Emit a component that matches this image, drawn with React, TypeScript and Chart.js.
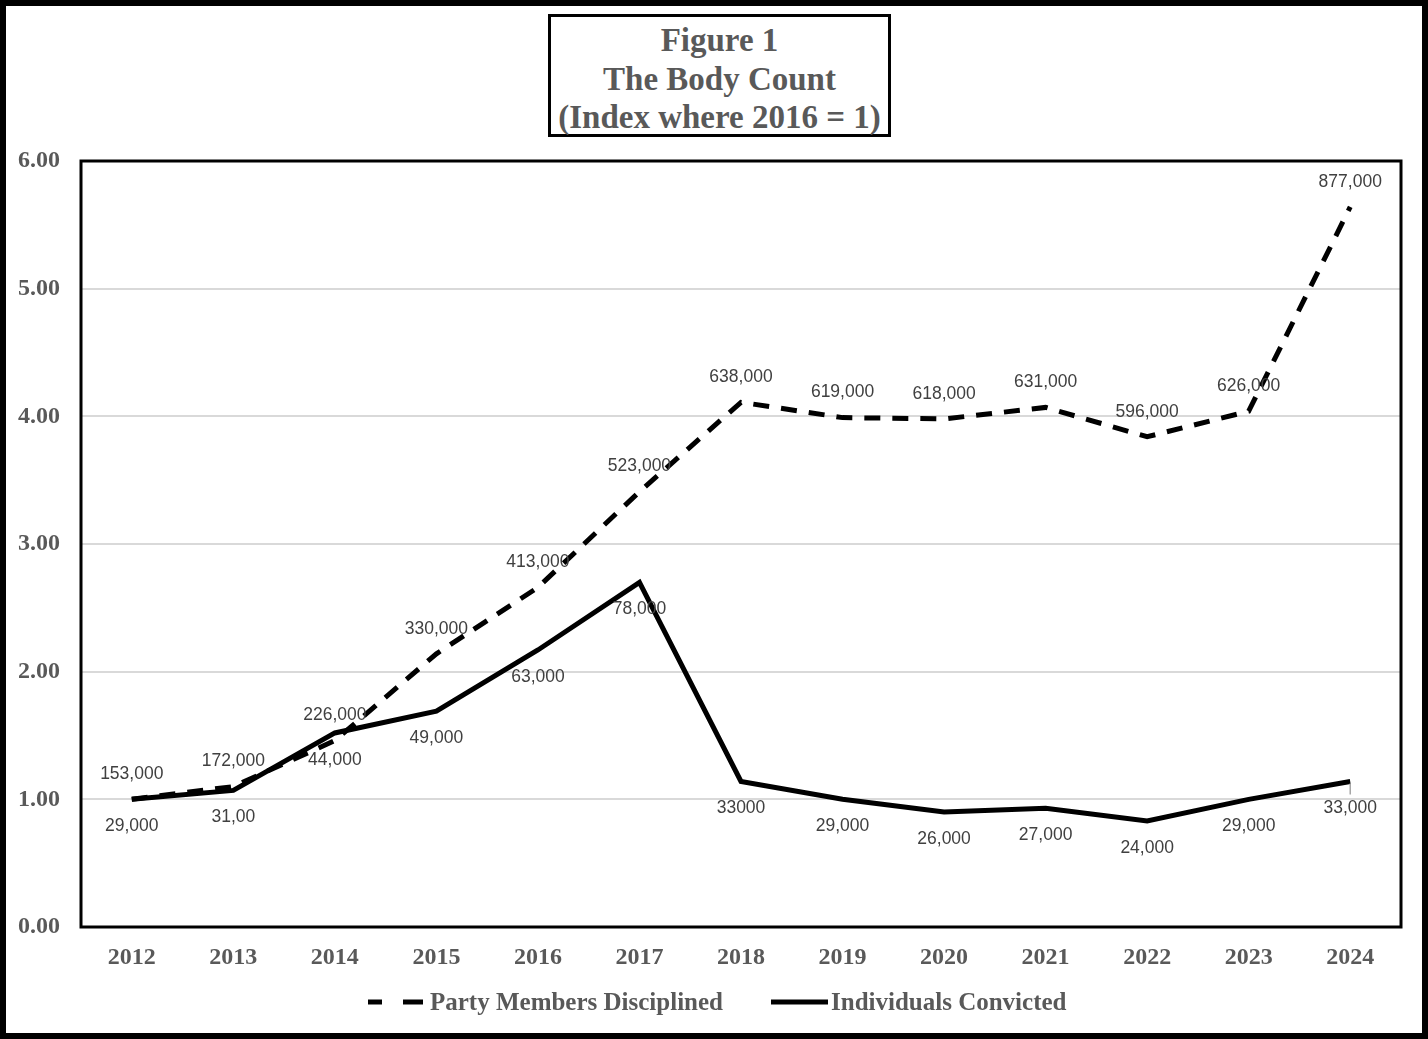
import { useEffect, useRef } from 'react';
import { Chart, registerables } from 'chart.js';

Chart.register(...registerables);

// data (index values)
const years = ['2012', '2013', '2014', '2015', '2016', '2017', '2018', '2019', '2020', '2021', '2022', '2023', '2024'];
const partyIndex = [1.0, 1.1, 1.46, 2.14, 2.66, 3.41, 4.11, 3.99, 3.98, 4.07, 3.84, 4.04, 5.64];
const convictedIndex = [1.0, 1.07, 1.52, 1.69, 2.17, 2.7, 1.14, 1.0, 0.9, 0.93, 0.83, 1.0, 1.14];
const partyLabels = ['153,000', '172,000', '226,000', '330,000', '413,000', '523,000', '638,000', '619,000', '618,000', '631,000', '596,000', '626,000', '877,000'];
const convictedLabels = ['29,000', '31,00', '44,000', '49,000', '63,000', '78,000', '33000', '29,000', '26,000', '27,000', '24,000', '29,000', '33,000'];
const yTicks = [0, 1, 2, 3, 4, 5, 6];

const serif = "'Liberation Serif', 'Times New Roman', serif";
const gray = '#595959';

// value labels above / below each point, plus the frame round the plot area
const labelsPlugin = {
  id: 'valueLabels',
  afterDatasetsDraw(chart: any) {
    const { ctx, chartArea } = chart;
    ctx.save();
    ctx.font = "17.5px 'Liberation Sans', Arial, sans-serif";
    ctx.fillStyle = '#404040';
    ctx.textAlign = 'center';
    ctx.textBaseline = 'middle';
    const sets = [
      { idx: 0, texts: partyLabels, dy: -25 },
      { idx: 1, texts: convictedLabels, dy: 27 },
    ];
    sets.forEach(s => {
      const meta = chart.getDatasetMeta(s.idx);
      meta.data.forEach((pt: any, i: number) => {
        ctx.fillText(s.texts[i], pt.x, pt.y + s.dy);
      });
    });
    // little leader line on the last convicted point
    const last = chart.getDatasetMeta(1).data[years.length - 1];
    if (last) {
      ctx.strokeStyle = '#a6a6a6';
      ctx.lineWidth = 1.5;
      ctx.beginPath();
      ctx.moveTo(last.x, last.y + 2);
      ctx.lineTo(last.x, last.y + 13);
      ctx.stroke();
    }
    ctx.strokeStyle = '#000';
    ctx.lineWidth = 3;
    ctx.strokeRect(chartArea.left, chartArea.top, chartArea.right - chartArea.left, chartArea.bottom - chartArea.top);
    ctx.restore();
  },
};

const LineChart = () => {
  const canvasRef = useRef<HTMLCanvasElement>(null);
  const chartRef = useRef<Chart | null>(null);

  useEffect(() => {
    if (!canvasRef.current) return;
    if (chartRef.current) chartRef.current.destroy();

    chartRef.current = new Chart(canvasRef.current, {
      type: 'line',
      data: {
        labels: years,
        datasets: [
          {
            label: 'Party Members Disciplined',
            data: partyIndex,
            borderColor: '#000',
            borderWidth: 5,
            borderDash: [16, 12],
            borderCapStyle: 'butt',
            pointRadius: 0,
            tension: 0,
          },
          {
            label: 'Individuals Convicted',
            data: convictedIndex,
            borderColor: '#000',
            borderWidth: 5,
            pointRadius: 0,
            tension: 0,
          },
        ],
      },
      options: {
        animation: false,
        responsive: true,
        maintainAspectRatio: false,
        layout: { padding: { left: 0, top: 161, right: 27, bottom: 52 } },
        plugins: {
          legend: { display: false },
          tooltip: { enabled: false },
        },
        scales: {
          x: {
            offset: true,
            grid: { display: false },
            border: { display: false },
            ticks: {
              color: gray,
              padding: 8,
              font: { family: serif, size: 24, weight: 'bold' },
            },
            afterFit: (scale: any) => { scale.height = 60; },
          },
          y: {
            min: 0,
            max: 6,
            afterBuildTicks: (scale: any) => { scale.ticks = yTicks.map(v => ({ value: v })); },
            grid: { color: '#d9d9d9', lineWidth: 2, drawTicks: false },
            border: { display: false },
            ticks: {
              color: gray,
              padding: 21,
              font: { family: serif, size: 24, weight: 'bold' },
              callback: (v: any) => Number(v).toFixed(2),
            },
            afterFit: (scale: any) => { scale.width = 81; },
          },
        },
      },
      plugins: [labelsPlugin],
    });

    return () => {
      if (chartRef.current) {
        chartRef.current.destroy();
        chartRef.current = null;
      }
    };
  }, []);

  return <canvas ref={canvasRef}></canvas>;
};

const legendText: React.CSSProperties = {
  fontFamily: serif,
  fontWeight: 'bold',
  fontSize: 25,
  color: gray,
  whiteSpace: 'nowrap',
  lineHeight: '30px',
};

export default function App() {
  return (
    <div style={{ position: 'fixed', left: 0, top: 0, width: 1428, height: 1039, background: '#fff', overflow: 'hidden' }}>
      <div style={{ position: 'absolute', left: 0, top: 0, width: 1428, height: 1039 }}>
        <LineChart />
      </div>

      {/* Title box */}
      <div
        style={{
          position: 'absolute', left: 548, top: 14, width: 343, height: 123,
          boxSizing: 'border-box', border: '3px solid #000', background: '#fff',
          paddingTop: 4, textAlign: 'center', fontFamily: serif, fontWeight: 'bold',
          fontSize: 33, lineHeight: '38.5px', color: gray, whiteSpace: 'nowrap',
        }}
      >
        <div>Figure 1</div>
        <div>The Body Count</div>
        <div>(Index where 2016 = 1)</div>
      </div>

      {/* Legend */}
      <div style={{ position: 'absolute', left: 368, top: 987, display: 'flex', alignItems: 'center' }}>
        <svg width="56" height="10" style={{ marginRight: 6 }}>
          <line x1="0" y1="5" x2="14" y2="5" stroke="#000" strokeWidth="5" />
          <line x1="35" y1="5" x2="55" y2="5" stroke="#000" strokeWidth="5" />
        </svg>
        <span style={legendText}>Party Members Disciplined</span>
      </div>
      <div style={{ position: 'absolute', left: 771, top: 987, display: 'flex', alignItems: 'center' }}>
        <svg width="58" height="10" style={{ marginRight: 2 }}>
          <line x1="0" y1="5" x2="57" y2="5" stroke="#000" strokeWidth="5" />
        </svg>
        <span style={legendText}>Individuals Convicted</span>
      </div>

      {/* Outer frame */}
      <div style={{ position: 'absolute', left: 0, top: 0, width: 1428, height: 1039, boxSizing: 'border-box', border: '6px solid #000', pointerEvents: 'none' }} />
    </div>
  );
}
